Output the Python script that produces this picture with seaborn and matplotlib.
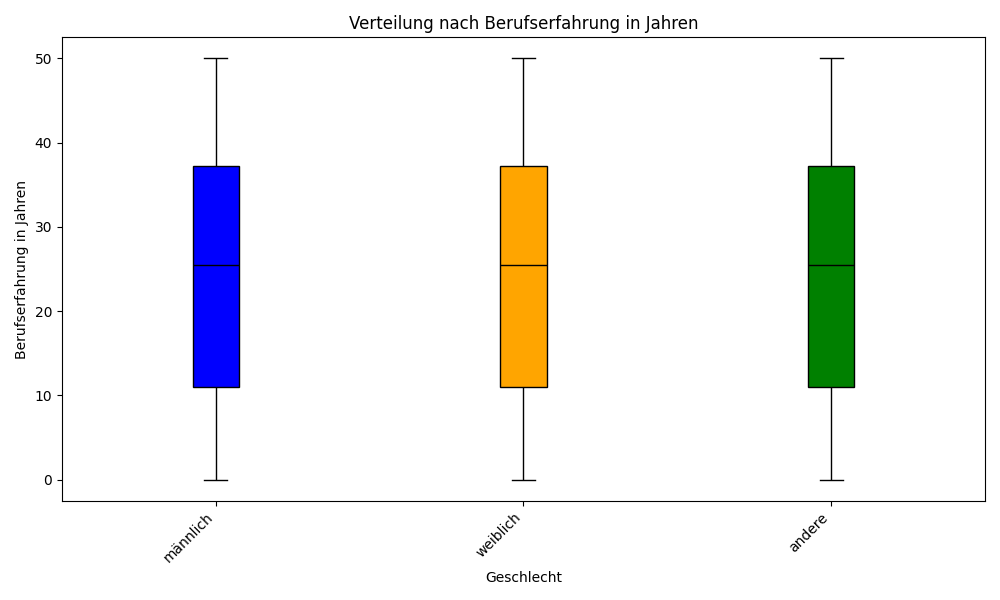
import pandas as pd
import matplotlib
matplotlib.use("Agg")
import matplotlib.pyplot as plt
import seaborn as sns

geschlecht = ["männlich", "weiblich", "andere"]
# Werte, aus denen sich die Box-Kennzahlen ergeben (min, Q1, Median, Q3, max)
erfahrung = [0, 11, 25.5, 37.25, 50]
farben = ["blue", "orange", "green"]

df = pd.DataFrame({
    "Geschlecht": [g for g in geschlecht for _ in erfahrung],
    "Jahre": erfahrung * len(geschlecht),
})

fig, ax = plt.subplots(figsize=(10, 6), dpi=100)
sns.boxplot(data=df, x="Geschlecht", y="Jahre", hue="Geschlecht", palette=farben,
            width=0.15, linecolor="black", linewidth=1, legend=False, ax=ax,
            whis=1.5, saturation=1)
ax.set_title("Verteilung nach Berufserfahrung in Jahren")
ax.set_xlabel("Geschlecht")
ax.set_ylabel("Berufserfahrung in Jahren")
ax.set_xlim(-0.5, 2.5)
plt.setp(ax.get_xticklabels(), rotation=45, ha="right")
plt.tight_layout()
plt.savefig("out.png")
